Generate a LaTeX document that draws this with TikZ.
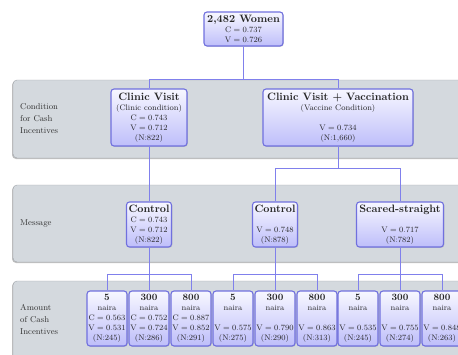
\documentclass[tikz,border=0pt]{standalone}
\usetikzlibrary{shadows}
\definecolor{boxline}{RGB}{112,112,222}
\definecolor{boxtop}{RGB}{247,247,255}
\definecolor{boxbot}{RGB}{190,190,250}
\definecolor{bandfill}{RGB}{212,217,222}
\definecolor{bandline}{RGB}{158,163,168}
\definecolor{linkcol}{RGB}{128,128,236}
\newcommand{\hd}[1]{{\fontsize{10.7}{13}\selectfont\bfseries #1}}
\newcommand{\hds}[1]{{\fontsize{9.7}{12}\selectfont\bfseries #1}}
\newcommand{\showval}[2]{#1${}={}$#2}

\begin{document}
\begin{tikzpicture}[x=1pt,y=-1pt,
  band/.style={draw=bandline,fill=bandfill,rounded corners=4pt,
    drop shadow={shadow xshift=-1pt,shadow yshift=-1pt,fill=black,opacity=0.25}},
  box/.style={draw=boxline,line width=1.1pt,rounded corners=3pt,
    top color=boxtop,bottom color=boxbot,
    drop shadow={shadow xshift=0.8pt,shadow yshift=-0.8pt,opacity=0.3},
    align=center,inner sep=1pt,text=black!85,
    font=\fontsize{8}{10}\selectfont},
  cash/.style={box,minimum width=40pt,minimum height=55pt},
  link/.style={draw=linkcol,line width=1pt},
  rowlabel/.style={anchor=west,align=left,inner sep=0pt,text=black!80,
    font=\fontsize{8.5}{12}\selectfont}]
  \useasboundingbox (0,0) rectangle (458,354);
  \clip (0,0) rectangle (458,354);
  % bands
  \draw[band] (13,80) rectangle (480,158);
  \draw[band] (13,185) rectangle (480,262);
  \draw[band] (13,281) rectangle (480,370);
  \node[rowlabel] (lcond) at (20,119) {Condition\\for Cash\\Incentives};
  \node[rowlabel] (lmsg) at (20,223.5) {Message};
  \node[rowlabel] (lamt) at (20,319) {Amount\\of Cash\\Incentives};
  % all women
  \node[box,minimum width=79pt,minimum height=34pt] (top) at (243.5,29)
    {\hd{2,482 Women}\\\showval{C}{0.737}\\\showval{V}{0.726}};
  % condition
  \node[box,minimum width=76pt,minimum height=57pt] (clinic) at (149,117.5)
    {\hd{Clinic Visit}\\(Clinic condition)\\\showval{C}{0.743}\\\showval{V}{0.712}\\(N:822)};
  \node[box,minimum width=150pt,minimum height=57pt] (vacc) at (338,117.5)
    {\hd{Clinic Visit + Vaccination}\\(Vaccine Condition)\\[10pt]\showval{V}{0.734}\\(N:1,660)};
  % message
  \node[box,minimum width=45pt,minimum height=45pt] (ctrlA) at (149,224.5)
    {\hd{Control}\\\showval{C}{0.743}\\\showval{V}{0.712}\\(N:822)};
  \node[box,minimum width=45pt,minimum height=45pt] (ctrlB) at (275,224.5)
    {\hd{Control}\\[10pt]\showval{V}{0.748}\\(N:878)};
  \node[box,minimum width=87pt,minimum height=45pt] (scared) at (400,224.5)
    {\hd{Scared-straight}\\[10pt]\showval{V}{0.717}\\(N:782)};
  % amount
  \foreach \nm/\xx/\amt/\cc/\vv/\nn in {
      a5/107/5/{\showval{C}{0.563}}/0.531/245,
      a300/149/300/{\showval{C}{0.752}}/0.724/286,
      a800/191/800/{\showval{C}{0.887}}/0.852/291,
      b5/233/5/\mbox{}/0.575/275,
      b300/275/300/\mbox{}/0.790/290,
      b800/317/800/\mbox{}/0.863/313,
      c5/358/5/\mbox{}/0.535/245,
      c300/400/300/\mbox{}/0.755/274,
      c800/442/800/\mbox{}/0.848/263}
    \node[cash] (\nm) at (\xx,318.5) {\hds{\amt}\\naira\\\cc\\\showval{V}{\vv}\\(N:\nn)};
  % connectors
  \coordinate (j1) at (243.5,79.5);
  \coordinate (j2) at (338,168.5);
  \draw[link] (top.south) -- (j1);
  \draw[link] (j1) -| (clinic.north);
  \draw[link] (j1) -| (vacc.north);
  \draw[link] (clinic.south) -- (ctrlA.north);
  \draw[link] (vacc.south) -- (j2);
  \draw[link] (j2) -| (ctrlB.north);
  \draw[link] (j2) -| (scared.north);
  \foreach \msg/\grp in {ctrlA/a,ctrlB/b,scared/c}{
    \coordinate (\grp j) at (\msg.south |- 0,274);
    \draw[link] (\msg.south) -- (\grp j);
    \draw[link] (\grp j) -| (\grp5.north);
    \draw[link] (\grp j) -| (\grp800.north);
    \draw[link] (\grp j) -- (\grp300.north);
  }
\end{tikzpicture}
\end{document}
